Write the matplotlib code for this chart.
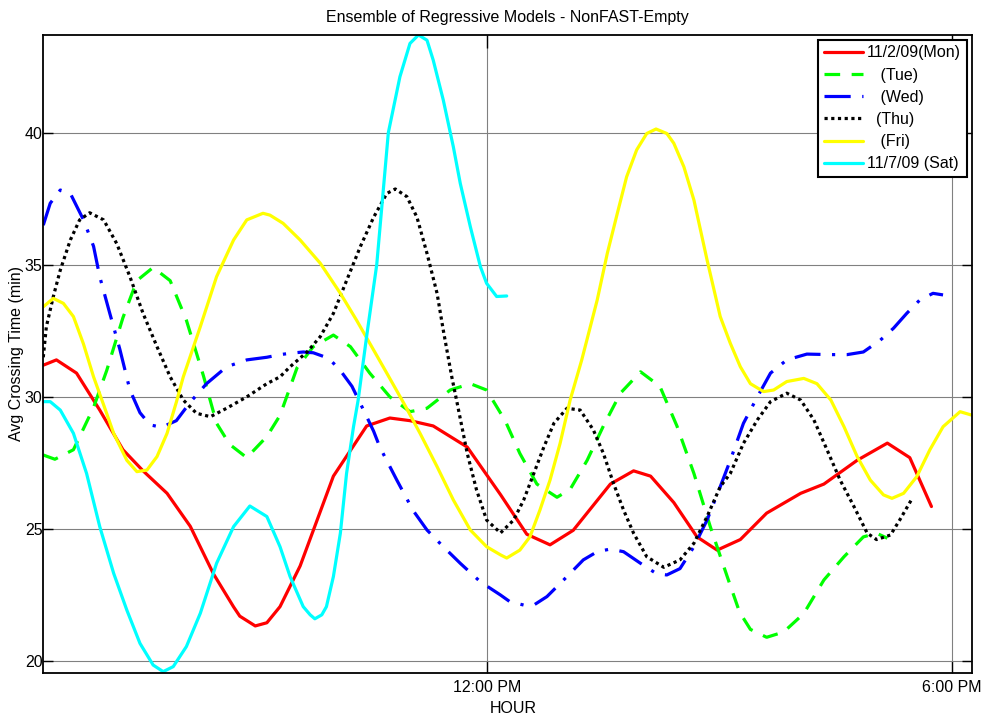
import numpy as np
import matplotlib
matplotlib.use("Agg")
import matplotlib.pyplot as plt
from matplotlib.ticker import FixedLocator, FuncFormatter

plt.rcParams['font.family'] = ['Liberation Sans', 'DejaVu Sans']

# hour of day (decimal) and avg crossing time (min) for each day of the week
mon_hours = [6.26, 6.43, 6.69, 6.99, 7.29, 7.55, 7.86, 8.16, 8.46, 8.72, 8.80, 9.00, 9.15, 9.32,
             9.58, 10.01, 10.44, 10.74, 11.00, 11.30, 11.74, 12.17, 12.51, 12.81, 13.11, 13.59,
             13.89, 14.11, 14.41, 14.71, 14.97, 15.27, 15.61, 16.05, 16.35, 16.78, 17.17,
             17.46, 17.74]
mon_times = [31.2, 31.4, 30.9, 29.5, 28.0, 27.2, 26.35, 25.1, 23.3, 22.05, 21.7, 21.33, 21.45, 22.06,
             23.6, 27.0, 28.9, 29.2, 29.1, 28.9, 28.1, 26.3, 24.8, 24.4, 24.95, 26.7,
             27.2, 27.0, 26.0, 24.7, 24.2, 24.6, 25.6, 26.35, 26.7, 27.6, 28.25,
             27.7, 25.85]

tue_hours = [6.26, 6.41, 6.65, 6.91, 7.08, 7.29, 7.47, 7.68, 7.90, 8.11, 8.33, 8.50, 8.67,
             8.89, 9.15, 9.32, 9.54, 9.75, 10.01, 10.23, 10.48, 10.74, 11.00, 11.22, 11.52,
             11.78, 11.99, 12.23, 12.42, 12.64, 12.90, 13.07, 13.29, 13.50, 13.72, 13.98,
             14.23, 14.45, 14.67, 14.88, 15.10, 15.26, 15.40, 15.61, 15.83, 16.09, 16.35,
             16.61, 16.86, 17.03, 17.17]
tue_times = [27.8, 27.64, 28.0, 29.6, 31.0, 33.0, 34.4, 34.9, 34.4, 32.9, 30.8, 29.0, 28.2,
             27.7, 28.5, 29.3, 31.1, 31.9, 32.34, 31.9, 30.9, 30.0, 29.44, 29.57, 30.26,
             30.5, 30.26, 29.1, 27.86, 26.7, 26.2, 26.5, 27.6, 28.9, 30.14, 30.95,
             30.4, 28.9, 27.1, 25.1, 23.2, 21.85, 21.2, 20.9, 21.1, 21.8, 23.07,
             23.95, 24.7, 24.84, 24.65]

wed_hours = [6.26, 6.35, 6.48, 6.61, 6.78, 6.91, 6.99, 7.12, 7.25, 7.38, 7.51, 7.64, 7.79,
             7.98, 8.16, 8.37, 8.63, 8.89, 9.15, 9.32, 9.45, 9.62, 9.75, 9.95, 10.10,
             10.25, 10.40, 10.53, 10.61, 10.83, 11.04, 11.22, 11.43, 11.65, 11.91, 12.17,
             12.29, 12.47, 12.60, 12.77, 13.03, 13.24, 13.42, 13.59, 13.76, 13.98, 14.19,
             14.32, 14.49, 14.67, 14.84, 15.01, 15.14, 15.31, 15.49, 15.66, 15.87, 16.13,
             16.44, 16.65, 16.86, 17.08, 17.25, 17.42, 17.59, 17.76, 17.89]
wed_times = [36.5, 37.33, 37.83, 37.7, 36.7, 35.7, 34.55, 33.16, 31.8, 30.26, 29.4, 28.94, 28.85,
             29.1, 29.8, 30.5, 31.14, 31.4, 31.5, 31.6, 31.65, 31.7, 31.67, 31.46, 31.0,
             30.4, 29.5, 28.7, 28.1, 26.85, 25.7, 24.96, 24.33, 23.7, 23.0, 22.5,
             22.25, 22.12, 22.12, 22.44, 23.2, 23.83, 24.14, 24.24, 24.14, 23.7, 23.3,
             23.26, 23.5, 24.33, 25.34, 26.6, 27.6, 29.0, 30.0, 30.9, 31.4, 31.62,
             31.6, 31.6, 31.7, 32.15, 32.6, 33.16, 33.67, 33.92, 33.86]

thu_hours = [6.26, 6.30, 6.39, 6.48, 6.61, 6.73, 6.86, 7.04, 7.21, 7.38, 7.55, 7.73, 7.90,
             8.07, 8.24, 8.42, 8.63, 8.89, 9.15, 9.32, 9.45, 9.67, 9.84, 10.01, 10.18,
             10.36, 10.53, 10.70, 10.81, 10.96, 11.09, 11.22, 11.35, 11.43, 11.54, 11.61,
             11.74, 11.86, 11.99, 12.17, 12.34, 12.47, 12.60, 12.73, 12.86, 13.03, 13.20,
             13.37, 13.50, 13.63, 13.76, 13.89, 14.06, 14.28, 14.49, 14.67, 14.84, 15.01,
             15.14, 15.31, 15.49, 15.66, 15.87, 16.05, 16.22, 16.39, 16.56, 16.74, 16.91,
             17.03, 17.21, 17.33, 17.48]
thu_times = [31.5, 32.66, 33.8, 34.8, 35.94, 36.7, 36.97, 36.7, 35.8, 34.55, 33.16, 31.9, 30.76,
             29.88, 29.38, 29.25, 29.57, 30.0, 30.5, 30.76, 31.14, 31.7, 32.28, 33.16, 34.4,
             35.7, 36.8, 37.7, 37.87, 37.58, 36.8, 35.43, 33.92, 32.53, 30.76, 29.76,
             27.86, 26.48, 25.34, 24.85, 25.34, 26.1, 27.1, 28.1, 29.0, 29.57, 29.5,
             28.75, 27.86, 26.73, 25.72, 24.84, 23.95, 23.55, 23.83, 24.46, 25.47, 26.6,
             27.1, 28.24, 29.13, 29.82, 30.14, 29.88, 29.13, 28.0, 26.85, 25.84, 24.84,
             24.6, 24.77, 25.34, 26.1]

fri_hours = [6.26, 6.39, 6.52, 6.65, 6.78, 6.91, 7.04, 7.17, 7.34, 7.47, 7.60, 7.73, 7.86,
             7.98, 8.07, 8.29, 8.50, 8.72, 8.89, 9.10, 9.19, 9.36, 9.58, 9.84, 10.10,
             10.31, 10.48, 10.70, 10.92, 11.13, 11.35, 11.56, 11.78, 11.99, 12.17, 12.25,
             12.42, 12.55, 12.68, 12.81, 12.94, 13.07, 13.22, 13.42, 13.55, 13.68, 13.80,
             13.93, 14.06, 14.18, 14.32, 14.41, 14.54, 14.67, 14.84, 15.01, 15.14, 15.27,
             15.40, 15.57, 15.70, 15.87, 16.09, 16.26, 16.44, 16.61, 16.78, 16.95, 17.12,
             17.23, 17.38, 17.55, 17.72, 17.89, 18.11, 18.26]
fri_times = [33.41, 33.73, 33.54, 33.04, 32.0, 30.76, 29.7, 28.62, 27.6, 27.17, 27.23, 27.74, 28.62,
             29.8, 30.76, 32.66, 34.55, 35.94, 36.7, 36.95, 36.88, 36.57, 35.94, 35.06, 33.92,
             32.9, 32.03, 30.9, 29.76, 28.62, 27.36, 26.1, 24.96, 24.33, 24.02, 23.9,
             24.2, 24.7, 25.72, 26.85, 28.24, 29.88, 31.4, 33.67, 35.43, 36.95, 38.33,
             39.35, 39.97, 40.14, 39.97, 39.6, 38.71, 37.45, 35.18, 33.04, 32.03, 31.14,
             30.5, 30.2, 30.26, 30.58, 30.7, 30.5, 29.88, 28.87, 27.74, 26.85, 26.29,
             26.16, 26.35, 26.98, 28.0, 28.87, 29.44, 29.31]

sat_hours = [6.26, 6.35, 6.48, 6.65, 6.82, 6.99, 7.17, 7.34, 7.51, 7.68, 7.81, 7.94, 8.11,
             8.29, 8.50, 8.72, 8.93, 9.15, 9.32, 9.45, 9.62, 9.71, 9.77, 9.86, 9.92, 10.01, 10.10,
             10.18, 10.27, 10.33, 10.44, 10.57, 10.72, 10.87, 11.00, 11.11, 11.22, 11.30,
             11.43, 11.56, 11.65, 11.78, 11.91, 11.99, 12.12, 12.25]
sat_times = [29.82, 29.82, 29.5, 28.62, 27.1, 25.09, 23.32, 21.93, 20.67, 19.85, 19.6, 19.79, 20.55,
             21.81, 23.7, 25.09, 25.87, 25.47, 24.33, 23.2, 22.06, 21.75, 21.6, 21.75, 22.06, 23.2, 24.84,
             27.1, 28.87, 29.88, 32.3, 35.0, 40.0, 42.12, 43.38, 43.7, 43.5, 42.75,
             41.24, 39.47, 38.08, 36.44, 34.93, 34.3, 33.8, 33.82]

day_labels = ['11/2/09(Mon)', '   (Tue)', '   (Wed)', '  (Thu)', '   (Fri)', '11/7/09 (Sat)']
x_ticks = [12, 18]


def hour_label(value, pos):
    hour = int(value) % 24
    minute = int(round((value - int(value)) * 60))
    suffix = 'AM' if hour < 12 else 'PM'
    h12 = hour % 12
    if h12 == 0:
        h12 = 12
    return f"{h12}:{minute:02d} {suffix}"


fig = plt.figure(figsize=(9.97, 7.17), dpi=100)
ax = fig.add_axes([0.0434, 0.0618, 0.9312, 0.8898])

lw = 2.3
series = [
    (mon_hours, mon_times, dict(color='#ff0000', linestyle='-')),
    (tue_hours, tue_times, dict(color='#00ff00', dashes=[4.9, 3.6])),
    (wed_hours, wed_times, dict(color='#0000ff', dashes=[8.2, 3.6, 1.0, 3.6])),
    (thu_hours, thu_times, dict(color='#000000', dashes=[1.0, 1.1])),
    (fri_hours, fri_times, dict(color='#ffff00', linestyle='-')),
    (sat_hours, sat_times, dict(color='#00ffff', linestyle='-')),
]
for (hrs, vals, style), label in zip(series, day_labels):
    ax.plot(hrs, vals, linewidth=lw, dash_capstyle='butt', solid_capstyle='round',
            solid_joinstyle='round', label=label, **style)

ax.set_xlim(6.26, 18.26)
ax.set_ylim(19.56, 43.71)
ax.xaxis.set_major_locator(FixedLocator(x_ticks))
ax.xaxis.set_major_formatter(FuncFormatter(hour_label))
ax.set_yticks([20, 25, 30, 35, 40])

ax.grid(True, color='#808080', linewidth=0.8, linestyle='-')
ax.set_axisbelow(True)
ax.tick_params(axis='both', direction='in', top=True, right=True, labelsize=11.5,
               width=1.0, color='black')
ax.tick_params(axis='x', length=9, pad=5)
ax.tick_params(axis='y', length=7, pad=0.5)
for spine in ax.spines.values():
    spine.set_linewidth(1.3)
    spine.set_color('black')

ax.set_title('Ensemble of Regressive Models - NonFAST-Empty', fontsize=11.5, pad=9)
ax.set_xlabel('HOUR', fontsize=11.5)
ax.xaxis.set_label_coords(0.506, -0.044)
ax.set_ylabel('Avg Crossing Time (min)', fontsize=11.5)
ax.yaxis.set_label_coords(-0.0205, 0.5)

leg = ax.legend(loc='upper right', fontsize=11.5, frameon=True, fancybox=False,
                handlelength=2.45, handletextpad=0.25, labelspacing=0.45,
                borderpad=0.35, borderaxespad=0.32)
leg.get_frame().set_edgecolor('black')
leg.get_frame().set_linewidth(1.5)
leg.get_frame().set_alpha(1.0)

fig.savefig('out.png', dpi=100)
